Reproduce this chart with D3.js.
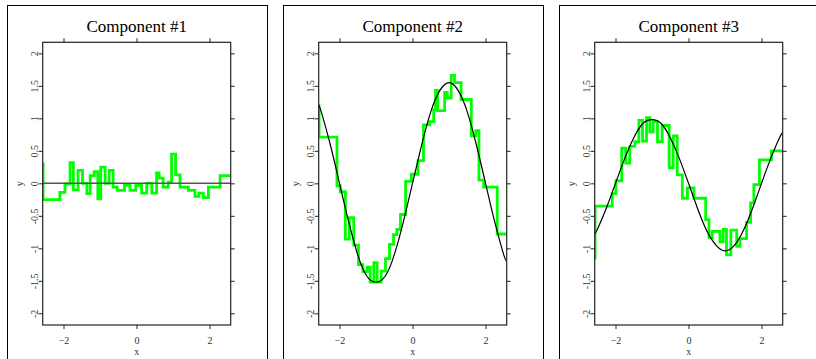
<!DOCTYPE html>
<html>
<head>
<meta charset="utf-8">
<script src="https://cdn.jsdelivr.net/npm/d3@7"></script>
<style>
  html, body { margin: 0; padding: 0; background: #fff; }
  svg { display: block; }
  text { font-family: "Liberation Serif", "Times New Roman", serif; }
</style>
</head>
<body>
<svg id="chart" width="816" height="359"></svg>
<script>
// ---------------- DATA ----------------
const panelTitles = ["Component #1", "Component #2", "Component #3"];
const xTicks = [-2, 0, 2];
const yTicks = [-2, -1.5, -1, -0.5, 0, 0.5, 1, 1.5, 2];
const yTickLabels = ["-2", "-1.5", "-1", "-0.5", "0", "0.5", "1", "1.5", "2"];

// true functions (black)
const trueX = [-2.58, -2.5, -2.25, -2, -1.75, -1.5, -1.25, -1, -0.75, -0.5, -0.25, 0,
               0.25, 0.5, 0.75, 1, 1.25, 1.5, 1.75, 2, 2.25, 2.5, 2.58];
const true1 = [0, 0, 0, 0, 0, 0, 0, 0, 0, 0, 0, 0, 0, 0, 0, 0, 0, 0, 0, 0, 0, 0, 0];
const true2 = [1.22, 1.10, 0.59, 0.0, -0.59, -1.10, -1.43, -1.52, -1.43, -1.10, -0.59, 0.0,
               0.59, 1.10, 1.43, 1.55, 1.43, 1.10, 0.59, 0.0, -0.59, -1.10, -1.20];
const true3 = [-0.78, -0.71, -0.38, 0.0, 0.38, 0.70, 0.92, 0.98, 0.92, 0.70, 0.38, 0.0,
               -0.39, -0.73, -0.95, -1.04, -0.96, -0.73, -0.39, 0.0, 0.38, 0.71, 0.78];

// fitted step functions (green): breakpoint x, level from that x on
const step1X = [-2.57, -2.56, -2.10, -1.96, -1.82, -1.73, -1.60, -1.48, -1.36, -1.27, -1.16, -1.06,
                -0.98, -0.86, -0.75, -0.64, -0.53, -0.33, -0.18, -0.02, 0.14, 0.28, 0.42, 0.55,
                0.62, 0.73, 0.87, 0.96, 1.07, 1.19, 1.42, 1.60, 1.71, 1.83, 1.97, 2.29, 2.58];
const step1Y = [0.30, -0.25, -0.14, -0.01, 0.32, -0.10, 0.20, 0.00, -0.16, 0.12, 0.18, -0.24,
                0.25, 0.00, 0.20, -0.06, -0.11, -0.03, -0.11, -0.03, -0.15, 0.00, -0.15, 0.16,
                0.08, -0.06, 0.02, 0.45, 0.13, -0.06, -0.11, -0.20, -0.15, -0.22, -0.06, 0.12, 0.12];

const step2X = [-2.57, -2.56, -2.07, -1.98, -1.84, -1.73, -1.61, -1.48, -1.36, -1.24, -1.16, -1.06,
                -0.97, -0.86, -0.74, -0.63, -0.52, -0.43, -0.33, -0.19, -0.03, 0.15, 0.30, 0.47,
                0.58, 0.63, 0.69, 0.88, 0.95, 1.06, 1.15, 1.33, 1.61, 1.73, 1.82, 1.95, 2.32, 2.58];
const step2Y = [1.19, 0.71, -0.04, -0.13, -0.86, -0.53, -0.95, -1.25, -1.36, -1.29, -1.52, -1.22,
                -1.52, -1.35, -1.16, -0.94, -0.79, -0.71, -0.48, 0.03, 0.14, 0.35, 0.90, 0.95,
                1.13, 1.43, 1.12, 1.40, 1.31, 1.66, 1.55, 1.29, 0.73, 0.81, 0.05, -0.06, -0.78, -0.78];

const step3X = [-2.57, -2.56, -2.09, -1.99, -1.83, -1.72, -1.61, -1.47, -1.36, -1.26, -1.15, -1.06,
                -0.97, -0.85, -0.72, -0.53, -0.42, -0.31, -0.17, -0.03, 0.15, 0.47, 0.56, 0.65,
                0.86, 0.95, 1.04, 1.16, 1.32, 1.41, 1.59, 1.70, 1.79, 1.94, 2.27, 2.58];
const step3Y = [-1.15, -0.35, -0.16, 0.04, 0.54, 0.31, 0.57, 0.64, 0.97, 0.65, 1.01, 0.79,
                0.95, 0.64, 0.89, 0.24, 0.73, 0.13, -0.23, -0.07, -0.23, -0.56, -0.84, -0.74,
                -0.90, -0.71, -1.10, -0.72, -0.97, -0.85, -0.60, -0.30, -0.02, 0.36, 0.50, 0.50];

const trueSeries = [true1, true2, true3];
const stepXs = [step1X, step2X, step3X];
const stepYs = [step1Y, step2Y, step3Y];

// ---------------- LAYOUT ----------------
const svg = d3.select("#chart");
const plotW = 188, plotTop = 42.3, plotBottom = 325;
const firstLeft = 42.7, panelStep = 276;
const xDomain = [-2.57, 2.58], yDomain = [-2.18, 2.17];
const serif = "'Liberation Serif', 'Times New Roman', serif";

panelTitles.forEach((title, i) => {
  const left = firstLeft + i * panelStep;
  const x = d3.scaleLinear().domain(xDomain).range([left, left + plotW]);
  const y = d3.scaleLinear().domain(yDomain).range([plotBottom, plotTop]);

  // outer strip frame
  svg.append("rect")
    .attr("x", Math.round(left - 36) + 0.5).attr("y", 5.5)
    .attr("width", 260).attr("height", 400)
    .attr("fill", "none").attr("stroke", "#000").attr("stroke-width", 1);

  // title
  svg.append("text")
    .attr("x", left + plotW / 2).attr("y", 32)
    .attr("text-anchor", "middle").attr("font-size", "17px")
    .attr("font-family", serif).attr("fill", "#000")
    .text(title);

  const g = svg.append("g");

  // clip
  const clipId = "clip" + i;
  svg.append("clipPath").attr("id", clipId)
    .append("rect").attr("x", left).attr("y", plotTop)
    .attr("width", plotW).attr("height", plotBottom - plotTop);

  // green step fit
  const sx = stepXs[i], sy = stepYs[i];
  const stepLine = d3.line().x((d, k) => x(sx[k])).y(d => y(d)).curve(d3.curveStepAfter);
  g.append("path")
    .datum(sy)
    .attr("clip-path", `url(#${clipId})`)
    .attr("d", stepLine)
    .attr("fill", "none")
    .attr("stroke", "#00ff00")
    .attr("stroke-width", 2.8)
    .attr("stroke-linejoin", "miter");

  // true function (drawn on top)
  const trueLine = d3.line().x((d, k) => x(trueX[k])).y(d => y(d)).curve(d3.curveNatural);
  g.append("path")
    .datum(trueSeries[i])
    .attr("clip-path", `url(#${clipId})`)
    .attr("d", trueLine)
    .attr("fill", "none")
    .attr("stroke", i === 0 ? "#555" : "#000")
    .attr("stroke-width", i === 0 ? 1.5 : 1.2);

  // panel box
  svg.append("rect")
    .attr("x", left).attr("y", plotTop)
    .attr("width", plotW).attr("height", plotBottom - plotTop)
    .attr("fill", "none").attr("stroke", "#222").attr("stroke-width", 1.2);

  // axes
  const axB = d3.axisBottom(x).tickValues(xTicks).tickSize(4).tickFormat(d3.format("d"));
  const gb = svg.append("g").attr("transform", `translate(0,${plotBottom})`).call(axB);
  gb.attr("font-family", serif);
  gb.select(".domain").remove();
  gb.selectAll("line").attr("stroke", "#222");
  gb.selectAll("text").attr("y", 18.5).attr("dy", 0)
    .attr("font-size", "10px").attr("font-family", serif).attr("fill", "#333");

  const axT = d3.axisTop(x).tickValues(xTicks).tickSize(4).tickFormat("");
  const gt = svg.append("g").attr("transform", `translate(0,${plotTop})`).call(axT);
  gt.select(".domain").remove();
  gt.selectAll("line").attr("stroke", "#222");

  const axL = d3.axisLeft(y).tickValues(yTicks).tickSize(4)
    .tickFormat((d, k) => yTickLabels[k]);
  const gl = svg.append("g").attr("transform", `translate(${left},0)`).call(axL);
  gl.attr("font-family", serif);
  gl.select(".domain").remove();
  gl.selectAll("line").attr("stroke", "#222");
  gl.selectAll("text")
    .attr("transform", "rotate(-90)")
    .attr("x", 0).attr("y", -5).attr("dy", 0)
    .attr("text-anchor", "middle")
    .attr("font-size", "10px").attr("font-family", serif).attr("fill", "#333");

  const axR = d3.axisRight(y).tickValues(yTicks).tickSize(4).tickFormat("");
  const gr = svg.append("g").attr("transform", `translate(${left + plotW},0)`).call(axR);
  gr.select(".domain").remove();
  gr.selectAll("line").attr("stroke", "#222");

  // axis labels
  svg.append("text")
    .attr("x", left + plotW / 2).attr("y", 355)
    .attr("text-anchor", "middle").attr("font-size", "10px")
    .attr("font-family", serif).attr("fill", "#333")
    .text("x");
  svg.append("text")
    .attr("transform", `translate(${left - 20},${(plotTop + plotBottom) / 2}) rotate(-90)`)
    .attr("text-anchor", "middle").attr("font-size", "10px")
    .attr("font-family", serif).attr("fill", "#333")
    .text("y");
});
</script>
</body>
</html>
